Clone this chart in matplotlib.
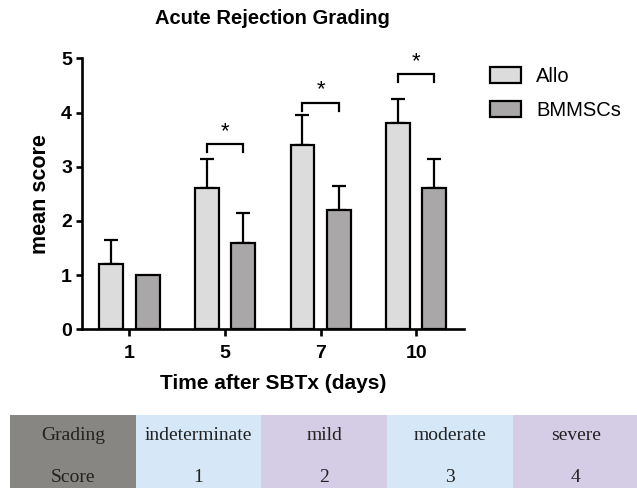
import numpy as np
import matplotlib.pyplot as plt
from matplotlib.patches import Rectangle

plt.rcParams['font.family'] = ['Liberation Sans', 'DejaVu Sans']

days = ['1', '5', '7', '10']
allo = [1.2, 2.6, 3.4, 3.8]
allo_err = [0.45, 0.55, 0.55, 0.45]
bmmsc = [1.0, 1.6, 2.2, 2.6]
bmmsc_err = [0.0, 0.55, 0.45, 0.55]
# significance brackets: (group index, bracket height)
sig = [(1, 3.42), (2, 4.18), (3, 4.71)]

grading = ['Grading', 'indeterminate', 'mild', 'moderate', 'severe']
scores = ['Score', '1', '2', '3', '4']
cell_colors = ['#878682', '#d6e8f7', '#d5cde5', '#d6e8f7', '#d5cde5']

fig = plt.figure(figsize=(6.37, 4.88), dpi=100)
ax = fig.add_axes([81.7 / 637, 1 - 329.3 / 488, (464 - 81.7) / 637, (329.3 - 58.3) / 488])

x = np.arange(len(days))
w = 0.25
off = 0.19
lw = 1.6
ax.bar(x - off, allo, w, color='#dcdcdc', edgecolor='black', linewidth=lw, label='Allo', zorder=2)
ax.bar(x + off, bmmsc, w, color='#a9a7a7', edgecolor='black', linewidth=lw, label='BMMSCs', zorder=2)
ax.errorbar(x - off, allo, yerr=[np.zeros(4), allo_err], fmt='none', ecolor='black',
            elinewidth=lw, capsize=5, capthick=lw, zorder=1)
bm_err = np.array(bmmsc_err)
mask = bm_err > 0
ax.errorbar((x + off)[mask], np.array(bmmsc)[mask], yerr=[np.zeros(mask.sum()), bm_err[mask]],
            fmt='none', ecolor='black', elinewidth=lw, capsize=5, capthick=lw, zorder=1)

for i, h in sig:
    ax.plot([i - off, i - off, i + off, i + off], [h - 0.15, h, h, h - 0.15],
            color='black', linewidth=lw, solid_joinstyle='miter')
    ax.text(i, h + 0.04, '*', ha='center', va='bottom', fontsize=16)

ax.set_xlim(-0.5, 3.5)
ax.set_ylim(0, 5)
ax.set_xticks(x)
ax.set_xticklabels(days)
ax.set_yticks(range(6))
for s in ['top', 'right']:
    ax.spines[s].set_visible(False)
for s in ['left', 'bottom']:
    ax.spines[s].set_linewidth(1.9)
ax.tick_params(axis='y', length=4, width=1.9, pad=3, labelsize=14)
ax.tick_params(axis='x', length=5, width=1.9, pad=6, labelsize=14)
for lab in ax.get_xticklabels() + ax.get_yticklabels():
    lab.set_fontweight('bold')
ax.set_xlabel('Time after SBTx (days)', fontsize=15, fontweight='bold', labelpad=9)
ax.set_ylabel('mean score', fontsize=15.5, fontweight='bold', labelpad=7)
ax.set_title('Acute Rejection Grading', fontsize=14.5, fontweight='bold', pad=25)

fig.legend(loc='upper left', bbox_to_anchor=(490 / 637, 1 - 67 / 488), frameon=False,
           fontsize=14.5, handlelength=1.55, handleheight=0.8, handletextpad=0.75,
           labelspacing=0.75, borderpad=0, borderaxespad=0)

# grading table
tax = fig.add_axes([10 / 637, 1 - 498.4 / 488, 628.5 / 637, 83.4 / 488])
tax.set_xlim(0, 5)
tax.set_ylim(2, 0)
tax.axis('off')
for j in range(5):
    for r, row in enumerate([grading, scores]):
        tax.add_patch(Rectangle((j, r), 1, 1, facecolor=cell_colors[j], edgecolor='none'))
        tax.text(j + 0.5, r + 0.5, row[j], ha='center', va='center', fontsize=14,
                 family='Liberation Serif', color='#222222')

fig.savefig('out.png', dpi=100)
